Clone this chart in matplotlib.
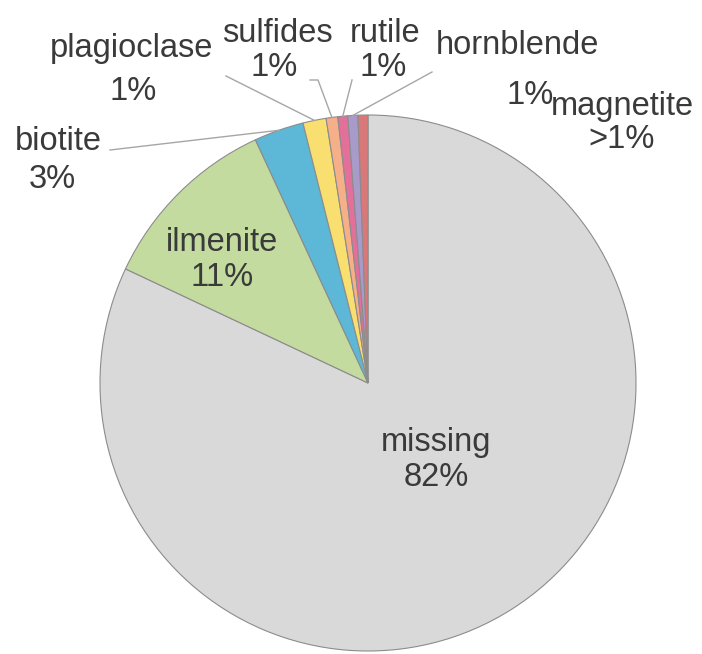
import numpy as np
import matplotlib.pyplot as plt

# ---------------------- data ----------------------
minerals = ["missing", "ilmenite", "biotite", "plagioclase",
            "sulfides", "rutile", "hornblende", "magnetite"]
shares = [82.0, 11.1, 3.0, 1.4, 0.7, 0.6, 0.6, 0.6]
pct_labels = ["82%", "11%", "3%", "1%", "1%", "1%", "1%", ">1%"]
colors = ["#d9d9d9", "#c4dba0", "#5db8d8", "#f9df6f",
          "#f5b08a", "#e3709a", "#a99bc9", "#d87878"]

# ---------------------- layout helpers ----------------------
W, H = 702, 654
CX, CY, R = 368, 383, 268   # pie centre / radius in image pixels


def px(x, y):
    # image pixel -> data coords (pie radius = 1)
    return (x - CX) / R, (CY - y) / R


plt.rcParams['font.family'] = ['Liberation Sans', 'DejaVu Sans']

fig = plt.figure(figsize=(W / 100, H / 100), dpi=100)
ax = fig.add_axes([0, 0, 1, 1])

wedges, _ = ax.pie(shares, colors=colors, startangle=90, counterclock=False,
                   radius=1, wedgeprops=dict(edgecolor="#8c8c8c", linewidth=0.8))

# pie() resets the limits, so set them afterwards
ax.set_xlim(-CX / R, (W - CX) / R)
ax.set_ylim((CY - H) / R, CY / R)
ax.set_aspect('equal')
ax.axis('off')

txt_col = "#3a3a3a"
fs = 23.5

# labels inside the big slices
inside = {0: (436, 460), 1: (222, 260)}
for i, (x, y) in inside.items():
    ax.text(*px(x, y), minerals[i] + "\n" + pct_labels[i], ha="center", va="center",
            fontsize=fs, color=txt_col, linespacing=1.15)

# outside labels: name position, percent position, leader line end near label
outside = {
    2: ((58, 141), (52, 179), (110, 150)),
    3: ((132, 48), (133, 91), (226, 76)),
    4: ((277, 33), (274, 68), (318, 80)),
    5: ((385, 33), (383, 68), (352, 80)),
    6: ((517, 46), (530, 96), (432, 72)),
    7: ((622, 107), (622, 140), None),
}
for i, (npos, ppos, lend) in outside.items():
    ax.text(*px(*npos), minerals[i], ha="center", va="center",
            fontsize=fs, color=txt_col)
    ax.text(*px(*ppos), pct_labels[i], ha="center", va="center",
            fontsize=fs, color=txt_col)
    if lend is None:
        continue
    w = wedges[i]
    ang = np.deg2rad((w.theta1 + w.theta2) / 2)
    ex, ey = np.cos(ang), np.sin(ang)
    lx, ly = px(*lend)
    if i == 4:
        # small elbow like the original
        ax.plot([lx - 0.03, lx, ex], [ly, ly, ey], color="#a6a6a6", lw=1.0)
    else:
        ax.plot([lx, ex], [ly, ey], color="#a6a6a6", lw=1.0)

fig.savefig("out.png", dpi=100, facecolor="white")
